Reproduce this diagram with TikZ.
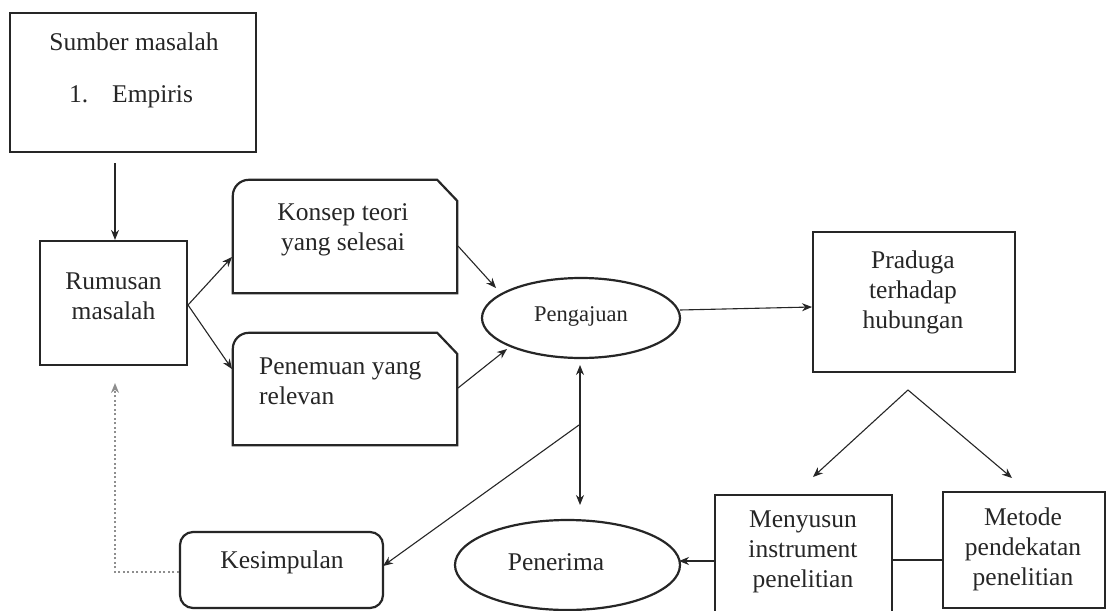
\documentclass[tikz,border=0pt]{standalone}
\usepackage{fontspec}
\setmainfont{Liberation Serif}
\usetikzlibrary{arrows.meta,calc,shapes.geometric}
\definecolor{ink}{HTML}{262626}
\definecolor{dotgray}{HTML}{8E8E8E}
\tikzset{
  boxline/.style={draw=ink, line width=2.2pt},
  outline/.style={boxline, rectangle, inner sep=0pt},
  txt/.style={text=ink, align=center, inner sep=0pt, font=\fontsize{25.5}{30}\selectfont},
  conn/.style={draw=ink, line width=1.1pt, -{Stealth[length=10pt,width=8pt]}},
  plainconn/.style={draw=ink, line width=1.1pt},
}
\begin{document}
\begin{tikzpicture}[x=1pt,y=1pt]
\useasboundingbox[fill=white] (0,-610) rectangle (1107,0);

% boxes
\node[outline, minimum width=246pt, minimum height=139pt] (sumber) at (133,-82.5) {};
\node[txt] (sumbert) at (134,-70) {Sumber masalah\\[22pt]\hspace*{-6pt}1.\hspace{24pt}Empiris};

\node[outline, minimum width=147pt, minimum height=124pt] (rum) at (113.5,-303) {};
\node[txt] (rumt) at (113.5,-296) {Rumusan\\masalah};

% Konsep teori box (rounded top-left, snipped top-right)
\node[inner sep=0pt, minimum width=224pt, minimum height=113pt] (konsep) at (345,-236.5) {};
\draw[boxline] (konsep.south west) -- ([yshift=-16pt]konsep.north west)
  arc[start angle=180, end angle=90, radius=16pt] -- ([xshift=-20pt]konsep.north east)
  -- ([yshift=-21pt]konsep.north east) -- (konsep.south east) -- cycle;
\node[txt] (konsept) at (343,-230) {Konsep teori\\yang selesai};

\node[inner sep=0pt, minimum width=224pt, minimum height=112pt] (penemuan) at (345,-389) {};
\draw[boxline] (penemuan.south west) -- ([yshift=-16pt]penemuan.north west)
  arc[start angle=180, end angle=90, radius=16pt] -- ([xshift=-20pt]penemuan.north east)
  -- ([yshift=-21pt]penemuan.north east) -- (penemuan.south east) -- cycle;
\node[txt, align=left, anchor=west] (penemuant) at (259,-381) {Penemuan yang\\relevan};

\node[boxline, ellipse, minimum width=198pt, minimum height=80pt, inner sep=0pt] (peng) at (581,-318) {};
\node[txt, font=\fontsize{22.5}{26}\selectfont] (pengt) at (581,-316) {Pengajuan};

\node[outline, minimum width=202pt, minimum height=140pt] (praduga) at (914,-302) {};
\node[txt] (pradugat) at (913,-292) {Praduga\\terhadap\\hubungan};

\node[outline, minimum width=177pt, minimum height=130pt] (menyusun) at (803.5,-560) {};
\node[txt] (menyusunt) at (803,-552) {Menyusun\\instrument\\penelitian};

\node[outline, minimum width=162pt, minimum height=116pt] (metode) at (1024,-550) {};
\node[txt] (metodet) at (1023,-549) {Metode\\pendekatan\\penelitian};

\node[boxline, ellipse, minimum width=225pt, minimum height=90pt, inner sep=0pt] (pener) at (567.5,-565) {};
\node[txt] (penert) at (556,-562) {Penerima};

\node[outline, rounded corners=13pt, minimum width=203pt, minimum height=76pt] (kesim) at (281.5,-570) {};
\node[txt] (kesimt) at (282,-562) {Kesimpulan};

% free ends
\coordinate (s1) at (115,-163);
\coordinate (fork) at (188,-305);
\coordinate (k1) at (458,-246);
\coordinate (p1) at (458,-388);
\coordinate (pe1) at (680,-310);
\coordinate (pr1) at (812,-307);
\coordinate (apex) at (908,-390);
\coordinate (mid) at (579,-425);
\coordinate (dcorner) at (115,-572);
\coordinate (dtop) at (115,-383);

% connectors
\draw[conn] (s1) -- (s1 |- rum.north);
\draw[conn] (fork) -- (232,-257);
\draw[conn] (fork) -- (232,-369);
\draw[conn] (k1) -- (496,-288);
\draw[conn] (p1) -- (507,-349);
\draw[conn] (pe1) -- (pr1);
\draw[conn] (apex) -- (813,-477);
\draw[conn] (apex) -- (1012,-478);
\draw[draw=ink, line width=1.1pt, {Stealth[length=10pt,width=8pt]}-{Stealth[length=10pt,width=8pt]}] (580,-365) -- (580,-505);
\draw[conn] (mid) -- (383,-566);
\draw[conn] (menyusun.west |- 0,-561) -- (679,-561);
\draw[plainconn] (menyusun.east |- 0,-560) -- (metode.west |- 0,-560);
\draw[draw=dotgray, line width=1.6pt, dash pattern=on 2pt off 2.5pt, -{Stealth[length=10pt,width=8pt]}] (kesim.west |- dcorner) -- (dcorner) -- (dtop);
\end{tikzpicture}
\end{document}
